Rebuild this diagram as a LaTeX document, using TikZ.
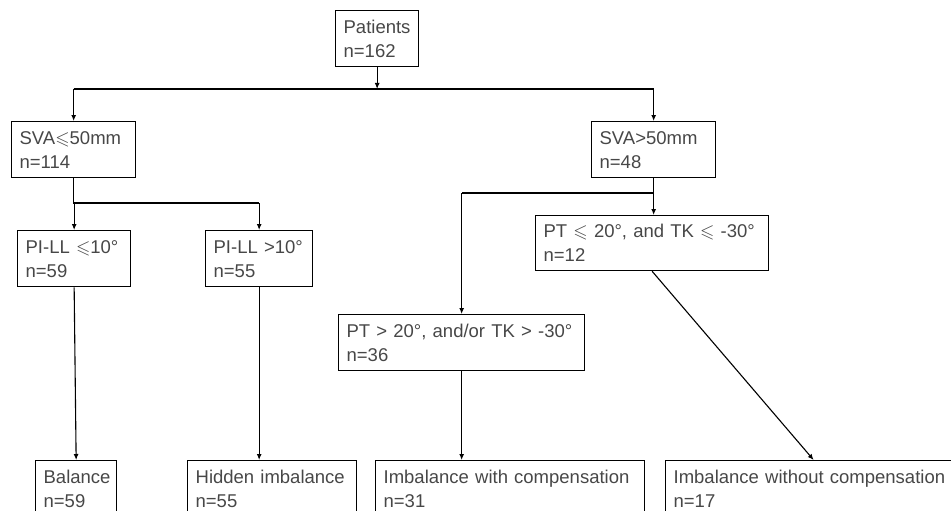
\documentclass[tikz,border=0pt]{standalone}
\usepackage{amsmath,amssymb}
\usepackage{fontspec}
\setmainfont{Liberation Sans}
\usetikzlibrary{arrows.meta}

\begin{document}
\begin{tikzpicture}[x=1pt,y=-1pt,
  box_node/.style={draw, line width=1.3pt, anchor=north west, align=left, inner xsep=8pt, inner ysep=0pt, minimum height=56pt, text=black!72, font=\fontsize{18.5}{24}\selectfont},
  arr_line/.style={-{Latex[length=6pt,width=5pt]}, line width=1.1pt}]

    \clip (0,0) rectangle (951,511);

	\node[box_node, text width=67pt]  (1)  at (335,10)  {Patients\\n=162};
    \node[box_node, text width=108pt] (2)  at (11,121)  {SVA$\leqslant$50mm\\n=114};
    \node[box_node, text width=108pt] (3)  at (591,121) {SVA>50mm\\n=48};
    \node[box_node, text width=97pt]  (4)  at (17,230)  {PI-LL $\leqslant$10°\\n=59};
    \node[box_node, text width=91pt]  (5)  at (205,230) {PI-LL >10°\\n=55};
    \node[box_node, text width=217pt, minimum height=55pt] (6) at (535,215) {PT $\leqslant$ 20°, and TK $\leqslant$ -30°\\n=12};
    \node[box_node, text width=230pt] (7)  at (338,314) {PT > 20°, and/or TK > -30°\\n=36};
    \node[box_node, text width=65pt]  (8)  at (35,460)  {Balance\\n=59};
    \node[box_node, text width=153pt] (9)  at (187,460) {Hidden imbalance\\n=55};
    \node[box_node, text width=253pt] (10) at (375,460) {Imbalance with compensation\\n=31};
    \node[box_node, text width=280pt] (11) at (665,460) {Imbalance without compensation\\n=17};

    \coordinate (h1) at (0,89);
    \coordinate (h2) at (0,203);
    \coordinate (h3) at (0,193);

    \draw[arr_line] (1) -- (1 |- h1);
    \draw[line width=1.1pt] (2.north |- h1) -- (3.north |- h1);
    \draw[arr_line] (2.north |- h1) -- (2);
    \draw[arr_line] (3.north |- h1) -- (3);

    \draw[line width=1.1pt] (2) -- (2 |- h2) -- (5 |- h2);
    \draw[arr_line] (4 |- h2) -- (4);
    \draw[arr_line] (5 |- h2) -- (5);

    \draw[line width=1.1pt] (3) -- (3 |- h3) -- (7 |- h3);
    \draw[arr_line] (3 |- h3) -- (3 |- 6.north);
    \draw[arr_line] (7 |- h3) -- (7);

    \draw[arr_line] (4.south) -- (8.north);
    \draw[arr_line] (5) -- (5 |- 9.north);
    \draw[arr_line] (7) -- (7 |- 10.north);
    \draw[arr_line] (6.south) -- (11.north);

\end{tikzpicture}
\end{document}
